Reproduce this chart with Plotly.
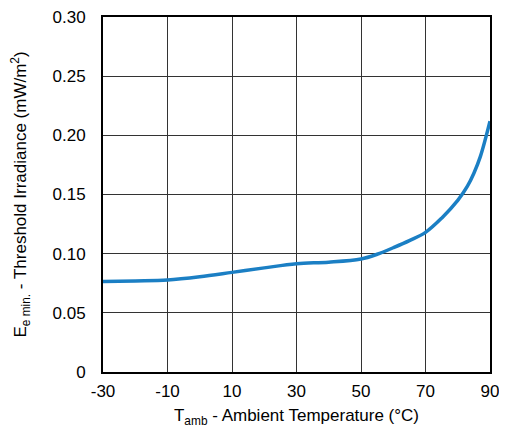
import plotly.graph_objects as go

temps = [-30, -20, -10, 0, 10, 20, 30, 40, 50, 55, 60, 65, 70, 75, 80, 83, 85, 87, 90]
irradiance = [0.0765, 0.077, 0.0778, 0.0805, 0.0842, 0.088, 0.0915, 0.0928, 0.0955, 0.0995,
              0.105, 0.111, 0.118, 0.130, 0.145, 0.157, 0.168, 0.182, 0.212]

x_ticks = [-30, -10, 10, 30, 50, 70, 90]
y_ticks = [0, 0.05, 0.10, 0.15, 0.20, 0.25, 0.30]
y_labels = ["0", "0.05", "0.10", "0.15", "0.20", "0.25", "0.30"]

fig = go.Figure()
fig.add_trace(go.Scatter(x=temps, y=irradiance, mode="lines",
                         line=dict(color="#1b7fc4", width=3.5, shape="spline", smoothing=1.0),
                         showlegend=False, hoverinfo="skip"))

# the page body has an 8px default margin, so the figure is offset by 8px;
# size the figure so the page does not overflow the 507x436 window
font = dict(family="Liberation Sans, Arial, sans-serif", size=17, color="black")
fig.update_layout(
    width=491, height=420,
    margin=dict(l=95, r=9, t=9, b=56),
    paper_bgcolor="white", plot_bgcolor="white",
    font=font,
    xaxis=dict(range=[-30, 90], tickvals=x_ticks, ticktext=[str(v) for v in x_ticks],
               showgrid=True, gridcolor="#333333", gridwidth=1,
               showline=True, linecolor="black", linewidth=2, mirror=True,
               zeroline=False, ticks="outside", ticklen=3, tickcolor="rgba(0,0,0,0)",
               automargin=False, tickfont=font, ticklabeloverflow="allow",
               title=dict(text="T<sub>amb</sub> - Ambient Temperature (°C)", font=font, standoff=15)),
    yaxis=dict(range=[0, 0.30], tickvals=y_ticks, ticktext=y_labels,
               showgrid=True, gridcolor="#333333", gridwidth=1,
               showline=True, linecolor="black", linewidth=2, mirror=True,
               zeroline=False, ticks="outside", ticklen=12, tickcolor="rgba(0,0,0,0)",
               automargin=False, tickfont=font, ticklabeloverflow="allow",
               title=dict(text="E<sub>e min.</sub> - Threshold Irradiance (mW/m<sup>2</sup>)", font=font, standoff=24)),
)

fig.write_html("out.html")
